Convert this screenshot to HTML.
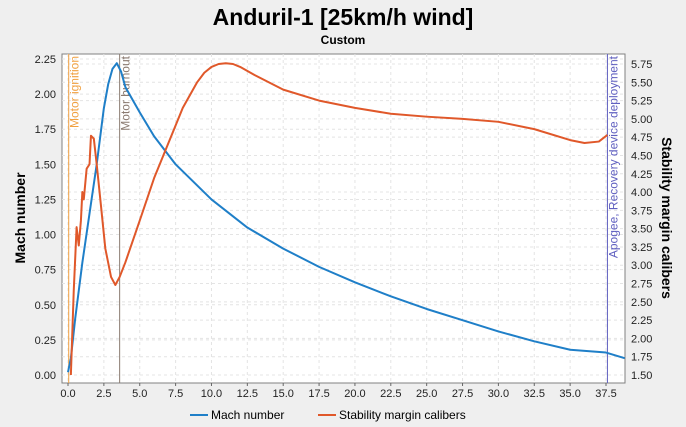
<!DOCTYPE html>
<html><head><meta charset="utf-8"><style>
body{margin:0;background:#efefef;font-family:"Liberation Sans",sans-serif;}
svg{display:block}
</style></head><body>
<svg id="c" width="686" height="427" font-family="Liberation Sans, sans-serif"></svg>
<script>
const machT=[0,0.2,0.5,1,1.5,2,2.5,2.8,3.1,3.4,3.7,4,4.5,5,6,7.5,10,12.5,15,17.5,20,22.5,25,27.5,30,32.5,35,37.5,38.8];
const machV=[0.02,0.12,0.4,0.8,1.15,1.5,1.9,2.07,2.18,2.22,2.16,2.05,1.96,1.87,1.7,1.5,1.25,1.05,0.9,0.77,0.66,0.56,0.47,0.39,0.31,0.24,0.18,0.16,0.12];
const stabT=[0.2,0.4,0.6,0.75,0.9,1.0,1.1,1.3,1.5,1.6,1.8,2.0,2.3,2.6,3.0,3.3,3.6,4,5,6,7,8,9,9.5,10,10.5,11,11.5,12,13,15,17.5,20,22.5,25,27.5,30,32.5,35,36,37,37.6];
const stabV=[1.5,2.65,3.52,3.27,3.61,4.0,3.9,4.32,4.38,4.77,4.73,4.38,3.81,3.23,2.84,2.73,2.84,3.04,3.61,4.19,4.67,5.15,5.5,5.63,5.71,5.75,5.76,5.75,5.71,5.6,5.4,5.25,5.15,5.07,5.03,5.0,4.96,4.86,4.71,4.67,4.69,4.78];
const xTicks=[0,2.5,5,7.5,10,12.5,15,17.5,20,22.5,25,27.5,30,32.5,35,37.5];
const lTicks=[0,0.25,0.5,0.75,1,1.25,1.5,1.75,2,2.25];
const rTicks=[1.5,1.75,2,2.25,2.5,2.75,3,3.25,3.5,3.75,4,4.25,4.5,4.75,5,5.25,5.5,5.75];
const events=[{t:0.05,label:"Motor ignition",color:"#f0a040"},{t:3.6,label:"Motor burnout",color:"#8a7a70"},{t:37.6,label:"Apogee, Recovery device deployment",color:"#6060c0"}];
const L=62,R=625,T=54,B=383;
const sx=t=>68+t*(538/37.5);
const sy=v=>375-v*(316/2.25);
const sr=v=>375-(v-1.5)*(311/4.25);
const svg=document.getElementById('c');
const NS="http://www.w3.org/2000/svg";
function el(tag,attrs,parent){const e=document.createElementNS(NS,tag);for(const k in attrs)e.setAttribute(k,attrs[k]);(parent||svg).appendChild(e);return e;}
function txt(s,attrs,parent){const e=el('text',attrs,parent);e.textContent=s;return e;}
let e;
e=txt("Anduril-1 [25km/h wind]",{x:343,y:25,'text-anchor':'middle','font-size':23,'font-weight':'bold',fill:'#000'});

e=txt("Custom",{x:343,y:44,'text-anchor':'middle','font-size':12,'font-weight':'bold',fill:'#000'});

e=el('rect',{x:L,y:T,width:R-L,height:B-T,fill:'#fff',stroke:'#808080'});

const g=el('g',{stroke:'#e4e4e4','stroke-dasharray':'3,3','stroke-width':1});

xTicks.forEach(t=>el('line',{x1:sx(t),x2:sx(t),y1:T,y2:B},g));
lTicks.forEach(v=>el('line',{x1:L,x2:R,y1:sy(v),y2:sy(v)},g));
rTicks.forEach(v=>el('line',{x1:L,x2:R,y1:sr(v),y2:sr(v)},g));
xTicks.forEach(t=>{el('line',{x1:sx(t),x2:sx(t),y1:B,y2:B+3,stroke:'#666'});
 const e=txt(t.toFixed(1),{x:sx(t),y:B+14,'text-anchor':'middle','font-size':11,fill:'#222'});
 });
lTicks.forEach(v=>{const e=txt(v.toFixed(2),{x:56,y:sy(v)+4,'text-anchor':'end','font-size':11,fill:'#222'});
 });
rTicks.forEach(v=>{const e=txt(v.toFixed(2),{x:631,y:sr(v)+4,'font-size':11,fill:'#222'});
 });
e=txt("Mach number",{x:0,y:0,'text-anchor':'middle','font-size':14,'font-weight':'bold',transform:'translate(25,218) rotate(-90)'});

e=txt("Stability margin calibers",{x:0,y:0,'text-anchor':'middle','font-size':14,'font-weight':'bold',transform:'translate(662,218) rotate(90)'});

events.forEach(ev=>{const x=sx(ev.t);
 const l=el('line',{x1:x,x2:x,y1:T,y2:B,stroke:ev.color,'stroke-width':1});
 
 const e=txt(ev.label,{x:0,y:0,'text-anchor':'end','font-size':12,fill:ev.color,transform:`translate(${x+10},${T+2}) rotate(-90)`});
 });
e=el('polyline',{points:machT.map((t,i)=>sx(t)+','+sy(machV[i])).join(' '),fill:'none',stroke:'#1f7fc8','stroke-width':2,'stroke-linejoin':'round'});

e=el('polyline',{points:stabT.map((t,i)=>sx(t)+','+sr(stabV[i])).join(' '),fill:'none',stroke:'#e0582a','stroke-width':2,'stroke-linejoin':'round'});

el('line',{x1:190,x2:208,y1:415,y2:415,stroke:'#1f7fc8','stroke-width':2});
e=txt("Mach number",{x:211,y:419,'font-size':12});

el('line',{x1:318,x2:336,y1:415,y2:415,stroke:'#e0582a','stroke-width':2});
e=txt("Stability margin calibers",{x:339,y:419,'font-size':12});

</script>
</body></html>
